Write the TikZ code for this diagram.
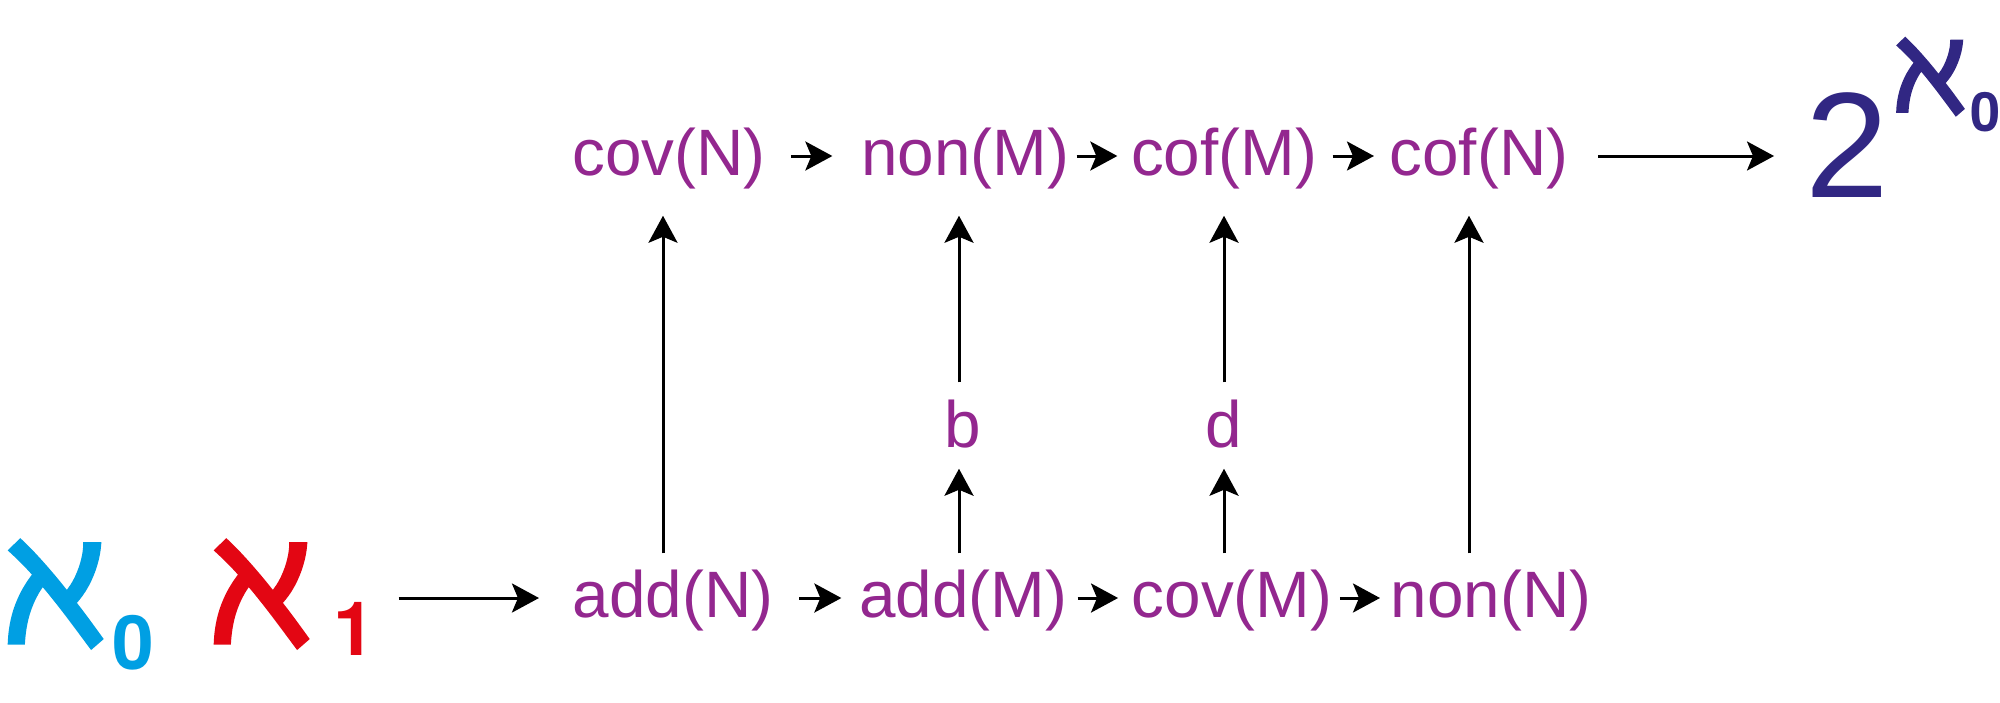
\documentclass[tikz,border=0pt]{standalone}
\usepackage{fontspec}
\setmainfont{Liberation Sans}
\newfontfamily\alephfont[FakeBold=3]{Noto Sans}
\newfontfamily\digitfont{TeX Gyre Heros}
\usetikzlibrary{arrows.meta}
\definecolor{purp}{HTML}{93278F}
\definecolor{cyanb}{HTML}{009FE3}
\definecolor{redc}{HTML}{E30613}
\definecolor{navy}{HTML}{312783}
\tikzset{
  card/.style={inner sep=0pt, anchor=base, text=purp, text height=0.48cm, text depth=0.10cm,
    font=\fontsize{18.66pt}{22pt}\selectfont},
  glyph/.style={inner sep=0pt, anchor=base},
  arr/.style={line width=0.03cm, -{Stealth[length=0.27cm, width=0.29cm, inset=0.06cm]}},
}
\begin{document}
\begin{tikzpicture}[x=0.01cm, y=-0.01cm]
\path[use as bounding box, fill=white] (0,0) rectangle (2000,702);
% top row
\node[card] (covN) at (669,175) {cov(N)};
\node[card] (nonM) at (965,175) {non(M)};
\node[card] (cofM) at (1224,175) {cof(M)};
\node[card] (cofN) at (1479,175) {cof(N)};
% bottom row
\node[card] (addN) at (673,617) {add(N)};
\node[card] (addM) at (963,617) {add(M)};
\node[card] (covM) at (1232,617) {cov(M)};
\node[card] (nonN) at (1491,617) {non(N)};
% middle
\node[card] (bN) at (963,447) {b};
\node[card] (dN) at (1224,447) {d};
% alephs
\node[glyph, text=cyanb, font=\alephfont\fontsize{47.5pt}{56pt}\selectfont] (alephA) at (55,642) {ℵ};
\node[glyph, text=cyanb, font=\digitfont\bfseries\fontsize{21.3pt}{25pt}\selectfont] (subA) at (133,669) {0};
\node[glyph, text=redc, font=\alephfont\fontsize{47.5pt}{56pt}\selectfont] (alephB) at (261,642) {ℵ};
\node[glyph, text=redc, font=\digitfont\bfseries\fontsize{21.3pt}{25pt}\selectfont] (subB) at (354,655) {1};
\node[glyph, text=navy, font=\fontsize{42.7pt}{50pt}\selectfont] (two) at (1847,197) {2};
\node[glyph, text=navy, font=\alephfont\fontsize{34pt}{40pt}\selectfont] (alephC) at (1930,111) {ℵ};
\node[glyph, text=navy, font=\digitfont\bfseries\fontsize{15.4pt}{18pt}\selectfont] (subC) at (1986,131) {0};
% horizontal arrows, top
\draw[arr, shorten <=0.245cm, shorten >=0.28cm] (covN.east) -- (nonM.west);
\draw[arr, shorten <=0.07cm, shorten >=0.13cm] (nonM.east) -- (cofM.west);
\draw[arr, shorten <=0.15cm, shorten >=0.15cm] (cofM.east) -- (cofN.west);
\draw[arr, shorten <=0.29cm, shorten >=0.305cm] (cofN.east) -- (cofN.east -| two.west);
% horizontal arrows, bottom
\draw[arr, shorten <=0.23cm, shorten >=0.33cm] (subB.east |- addN.west) -- (addN.west);
\draw[arr, shorten <=0.25cm, shorten >=0.17cm] (addN.east) -- (addM.west);
\draw[arr, shorten <=0.10cm, shorten >=0.13cm] (addM.east) -- (covM.west);
\draw[arr, shorten <=0.07cm, shorten >=0.10cm] (covM.east) -- (nonN.west);
% vertical arrows
\draw[arr, shorten <=0.15cm, shorten >=0.30cm] ([xshift=-0.10cm]addN.north) -- ([xshift=-0.10cm]addN.north |- covN.south);
\draw[arr, shorten <=0.15cm, shorten >=0.11cm] ([xshift=-0.04cm]addM.north) -- ([xshift=-0.04cm]addM.north |- bN.south);
\draw[arr, shorten <=0.16cm, shorten >=0.30cm] ([xshift=-0.04cm]bN.north) -- ([xshift=-0.04cm]bN.north |- nonM.south);
\draw[arr, shorten <=0.15cm, shorten >=0.11cm] (covM.north -| dN.south) -- (dN.south);
\draw[arr, shorten <=0.16cm, shorten >=0.30cm] (dN.north) -- (dN.north |- cofM.south);
\draw[arr, shorten <=0.15cm, shorten >=0.30cm] ([xshift=-0.22cm]nonN.north) -- ([xshift=-0.22cm]nonN.north |- cofN.south);
\end{tikzpicture}
\end{document}
